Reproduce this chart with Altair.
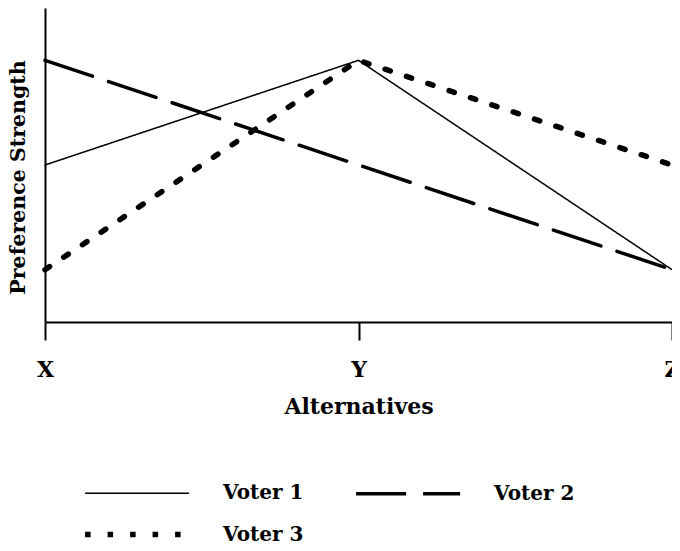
import altair as alt
import pandas as pd

alternatives = ["X", "Y", "Z"]
voters = ["Voter 1", "Voter 2", "Voter 3"]
voter1 = [2, 3, 1]
voter2 = [3, 2, 1]
voter3 = [1, 3, 2]

rows = []
for name, vals in zip(voters, [voter1, voter2, voter3]):
    for a, v in zip(alternatives, vals):
        rows.append({"Alternative": a, "Strength": v, "Voter": name})
df = pd.DataFrame(rows)

FONT = "DejaVu Serif"

# custom horizontal stroke symbol: length 10 * sqrt(size) / 2
legend = alt.Legend(
    title=None,
    orient="none",
    direction="horizontal",
    legendX=37,
    legendY=473,
    columns=2,
    symbolType="M-5,0H5",
    symbolSize=432.6,
    symbolOffset=41.6,
    symbolStrokeColor="black",
    labelFont=FONT,
    labelFontSize=20,
    labelFontWeight="bold",
    labelColor="black",
    labelOffset=72.5,
    columnPadding=45,
    rowPadding=17,
    padding=0,
)

chart = (
    alt.Chart(df)
    .mark_line(color="black", strokeCap="round")
    .encode(
        x=alt.X(
            "Alternative:N",
            sort=alternatives,
            scale=alt.Scale(type="point", padding=0),
            axis=alt.Axis(
                title="Alternatives",
                labelAngle=0,
                labelPadding=19,
                titlePadding=16,
                tickSize=18,
                tickWidth=2,
                domainWidth=2,
                labelFontSize=22,
                titleFontSize=22,
            ),
        ),
        y=alt.Y(
            "Strength:Q",
            scale=alt.Scale(domain=[0.5, 3.5], nice=False, zero=False),
            axis=alt.Axis(
                title="Preference Strength",
                labels=False,
                ticks=False,
                grid=False,
                domainWidth=2,
                titleX=-27,
                titleY=169,
                titleAngle=270,
                titleAlign="center",
                titleBaseline="middle",
                titleFontSize=20.5,
            ),
        ),
        strokeDash=alt.StrokeDash(
            "Voter:N",
            scale=alt.Scale(domain=voters, range=[[1, 0], [50, 17], [5.5, 17]]),
            legend=legend,
        ),
        strokeWidth=alt.StrokeWidth(
            "Voter:N",
            scale=alt.Scale(domain=voters, range=[1.5, 5.5, 5]),
            legend=legend,
        ),
    )
    .properties(
        width=627,
        height=314,
        autosize=alt.AutoSizeParams(type="none"),
        padding={"left": 37, "top": 0, "right": 0, "bottom": 221},
    )
    .configure_view(stroke=None)
    .configure_axis(
        grid=False,
        domainColor="black",
        tickColor="black",
        labelColor="black",
        titleColor="black",
        labelFont=FONT,
        titleFont=FONT,
        labelFontWeight="bold",
        titleFontWeight="bold",
    )
)

chart.save("out.html", embed_options={"renderer": "svg", "actions": False})
